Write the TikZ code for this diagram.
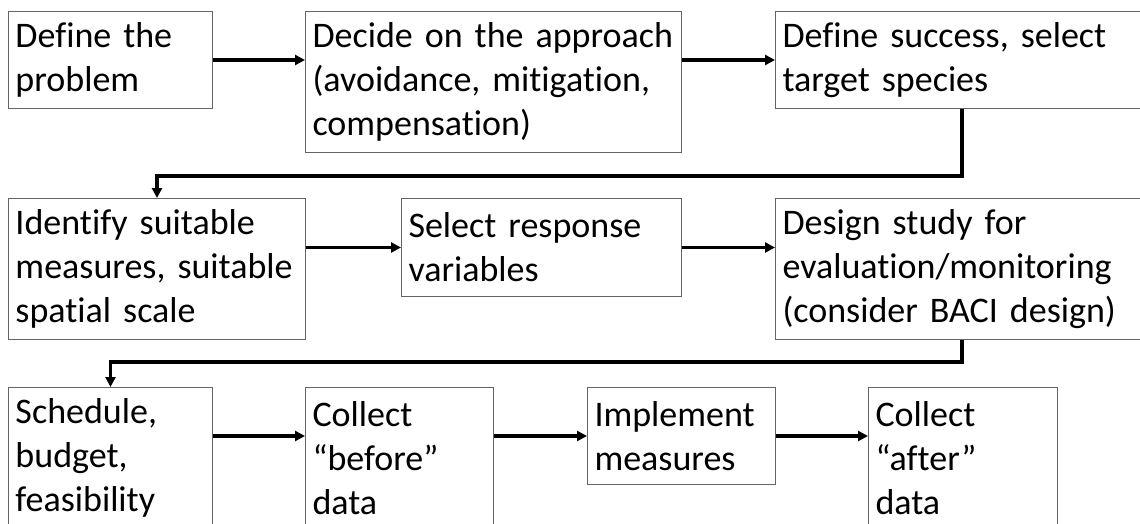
\documentclass[tikz,border=0pt]{standalone}
\usepackage{fontspec}
\setmainfont{Carlito}[Ligatures={NoCommon}]
\usetikzlibrary{arrows.meta}
\begin{document}
\begin{tikzpicture}[x=1pt,y=-1pt,
  box/.style={draw={rgb,255:red,100;green,100;blue,100}, line width=1pt, anchor=north west,
    inner xsep=7pt, inner ysep=0pt, align=left,
    font=\fontsize{36}{44}\selectfont},
  arr/.style={line width=3.2pt, -{Triangle[length=10pt,width=10pt]}}]
\useasboundingbox (0,0) rectangle (1140,524);
\fill[white] (0,0) rectangle (1140,524);
\clip (0,0) rectangle (1140,524);
% row 1
\node[box, minimum width=204pt, minimum height=97pt, text width=190pt] (b1) at (8,11) {Define the\\problem};
\node[box, minimum width=376pt, minimum height=141pt, text width=362pt] (b2) at (305,11) {Decide on the approach\\(avoidance, mitigation,\\compensation)};
\node[box, minimum width=400pt, minimum height=97pt, text width=386pt] (b3) at (775,11) {Define success, select\\target species};
% row 2
\node[box, minimum width=297pt, minimum height=141pt, text width=283pt] (b4) at (8,198) {Identify suitable\\measures, suitable\\spatial scale};
\node[box, minimum width=280pt, minimum height=98pt, text width=266pt] (b5) at (401,198) {Select response\\variables};
\node[box, minimum width=400pt, minimum height=141pt, text width=386pt] (b6) at (775,198) {Design study for\\evaluation/monitoring\\(consider BACI design)};
% row 3
\node[box, minimum width=204pt, minimum height=141pt, text width=190pt] (b7) at (8,387) {Schedule,\\budget,\\feasibility};
\node[box, minimum width=188pt, minimum height=141pt, text width=174pt] (b8) at (305,387) {Collect\\“before”\\data};
\node[box, minimum width=188pt, minimum height=97pt, text width=174pt] (b9) at (587,387) {Implement\\measures};
\node[box, minimum width=189pt, minimum height=141pt, text width=175pt] (b10) at (868,387) {Collect\\“after”\\data};
% elbow coordinates
\coordinate (k1) at (962,176);
\coordinate (k2) at (962,362);
% connectors
\draw[arr] (b1.east) -- (b1.east -| b2.west);
\draw[arr] (b2.east |- b1.east) -- (b3.west |- b1.east);
\draw[arr] (b3.south -| k1) -- (k1) -| (b4.north);
\draw[arr] (b4.east |- b5.west) -- (b5.west);
\draw[arr] (b5.east) -- (b5.east -| b6.west);
\draw[arr] (b6.south -| k2) -- (k2) -| (b7.north);
\draw[arr] (b7.east |- b9.west) -- (b8.west |- b9.west);
\draw[arr] (b8.east |- b9.west) -- (b9.west);
\draw[arr] (b9.east) -- (b9.east -| b10.west);
\end{tikzpicture}
\end{document}
